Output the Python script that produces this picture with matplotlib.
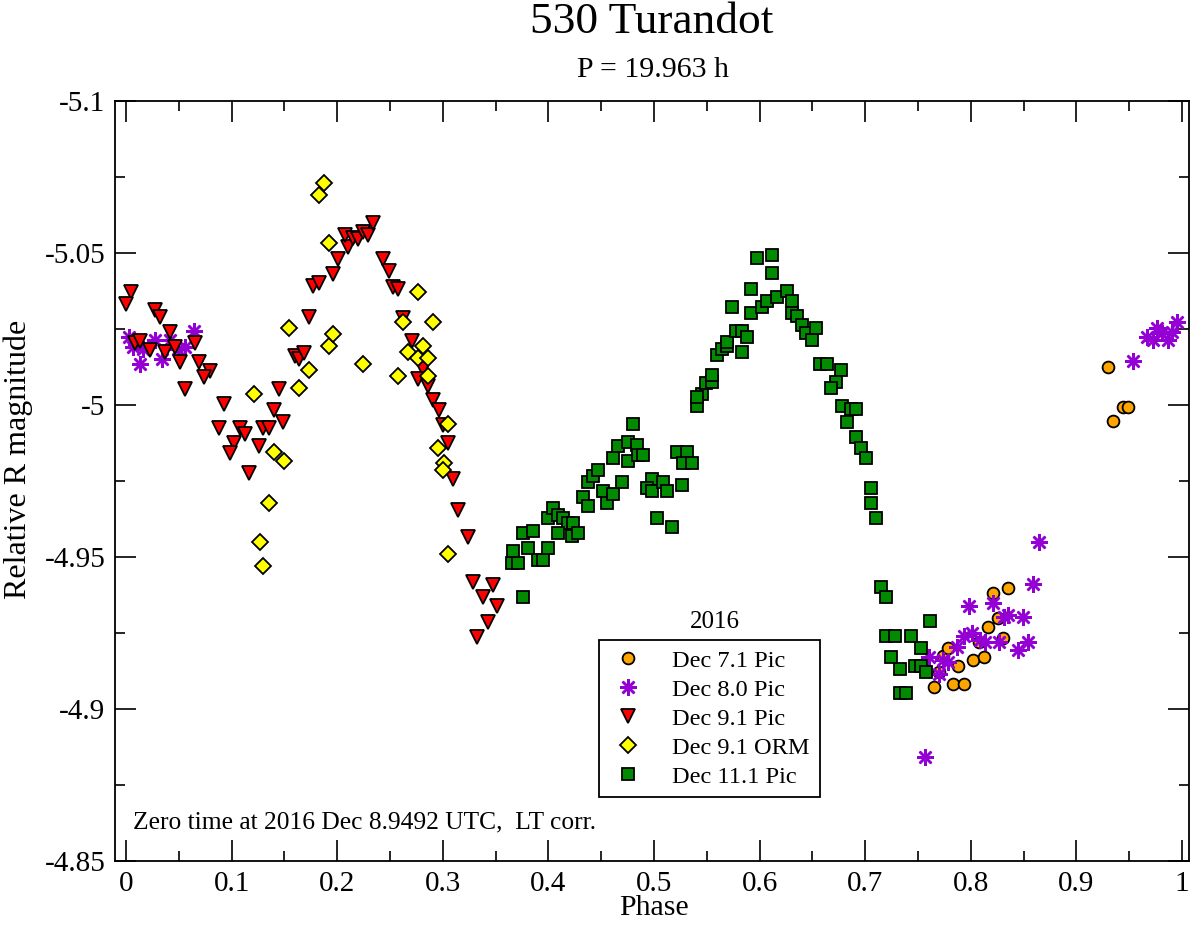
import matplotlib
matplotlib.use("Agg")
import matplotlib.pyplot as plt
from matplotlib.ticker import MultipleLocator, FuncFormatter

plt.rcParams["font.family"] = ["Liberation Serif", "DejaVu Serif"]
plt.rcParams["axes.unicode_minus"] = False

# Dec 7.1 Pic (orange circles)
dec07_phase = [0.7652, 0.7702, 0.7740, 0.7787, 0.7835, 0.7882, 0.7936, 0.8024, 0.8078, 0.8125,
               0.8160, 0.8213, 0.8261, 0.8308, 0.8355, 0.9296, 0.9349, 0.9438, 0.9491]
dec07_mag = [-4.9073, -4.9123, -4.9174, -4.9202, -4.9082, -4.9142, -4.9082, -4.9161, -4.9221, -4.9172,
             -4.9271, -4.9383, -4.9300, -4.9233, -4.9399, -5.0124, -4.9947, -4.9994, -4.9994]

# Dec 8.0 Pic (violet stars)
dec08_phase = [0.0031, 0.0069, 0.0164, 0.0133, 0.0275, 0.0338, 0.0417, 0.0495, 0.0559, 0.0647,
               0.7566, 0.7607, 0.7699, 0.7740, 0.7787, 0.7866, 0.7936, 0.8008, 0.7983, 0.8087,
               0.8134, 0.8213, 0.8270, 0.8317, 0.8349, 0.8450, 0.8491, 0.8545, 0.8592, 0.8646,
               0.9533, 0.9666, 0.9728, 0.9760, 0.9808, 0.9870, 0.9902, 0.9950]
dec08_mag = [-5.0225, -5.0192, -5.0183, -5.0135, -5.0214, -5.0151, -5.0214, -5.0183, -5.0192, -5.0243,
             -4.8842, -4.9172, -4.9115, -4.9161, -4.9156, -4.9203, -4.9240, -4.9249, -4.9339, -4.9227,
             -4.9221, -4.9350, -4.9221, -4.9302, -4.9309, -4.9194, -4.9302, -4.9221, -4.9411, -4.9548,
             -5.0145, -5.0225, -5.0214, -5.0252, -5.0236, -5.0214, -5.0241, -5.0274]

# Dec 9.1 Pic (red triangles)
dec09_phase = [0.0045, 0.0000, 0.0275, 0.0322, 0.0417, 0.0085, 0.0133, 0.0227, 0.0369, 0.0464,
               0.0653, 0.0511, 0.0694, 0.0795, 0.0741, 0.0559, 0.0931, 0.0884, 0.1080, 0.1127,
               0.1026, 0.0985, 0.1168, 0.1300, 0.1357, 0.1262, 0.1404, 0.1490, 0.1452, 0.1600,
               0.1641, 0.1686, 0.1733, 0.1774, 0.1828, 0.1963, 0.2010, 0.2105, 0.2074, 0.2152,
               0.2200, 0.2247, 0.2294, 0.2342, 0.2437, 0.2491, 0.2531, 0.2579, 0.2626, 0.2711,
               0.2810, 0.2762, 0.2863, 0.2904, 0.2964, 0.2999, 0.3046, 0.3099, 0.3147, 0.3242,
               0.3289, 0.3478, 0.3378, 0.3516, 0.3425, 0.3327]
dec09_mag = [-5.0371, -5.0332, -5.0312, -5.0290, -5.0241, -5.0203, -5.0211, -5.0181, -5.0173, -5.0192,
             -5.0203, -5.0142, -5.0142, -5.0113, -5.0093, -5.0053, -5.0002, -4.9925, -4.9925, -4.9904,
             -4.9874, -4.9843, -4.9775, -4.9925, -4.9925, -4.9865, -4.9984, -4.9943, -5.0053, -5.0162,
             -5.0151, -5.0172, -5.0290, -5.0391, -5.0400, -5.0430, -5.0480, -5.0519, -5.0559, -5.0548,
             -5.0545, -5.0570, -5.0559, -5.0600, -5.0480, -5.0441, -5.0389, -5.0381, -5.0285, -5.0212,
             -5.0117, -5.0086, -5.0062, -5.0016, -4.9984, -4.9934, -4.9874, -4.9756, -4.9655, -4.9567,
             -4.9417, -4.9408, -4.9369, -4.9339, -4.9287, -4.9238]

# Dec 9.1 ORM (yellow diamonds)
orm_phase = [0.1212, 0.1300, 0.1269, 0.1357, 0.1404, 0.1496, 0.1546, 0.1638, 0.1736, 0.1828,
             0.1875, 0.1922, 0.1922, 0.1963, 0.2247, 0.2579, 0.2620, 0.2673, 0.2768, 0.2768,
             0.2815, 0.2857, 0.2857, 0.2904, 0.2957, 0.3011, 0.3005, 0.3046, 0.3046]
orm_mag = [-5.0035, -4.9470, -4.9550, -4.9679, -4.9846, -4.9817, -5.0254, -5.0055, -5.0115, -5.0691,
           -5.0731, -5.0532, -5.0195, -5.0234, -5.0135, -5.0095, -5.0272, -5.0173, -5.0373, -5.0154,
           -5.0195, -5.0154, -5.0095, -5.0272, -4.9857, -4.9808, -4.9786, -4.9937, -4.9509]

# Dec 11.1 Pic (green squares)
dec11_phase = [0.3652, 0.3715, 0.3668, 0.3762, 0.3757, 0.3810, 0.3857, 0.3899, 0.3946, 0.3999,
               0.3999, 0.4041, 0.4094, 0.4141, 0.4188, 0.4236, 0.4094, 0.4221, 0.4283, 0.4330,
               0.4372, 0.4372, 0.4419, 0.4473, 0.4514, 0.4558, 0.4609, 0.4700, 0.4609, 0.4656,
               0.4751, 0.4751, 0.4836, 0.4851, 0.4893, 0.4798, 0.4978, 0.4931, 0.4978, 0.5082,
               0.5120, 0.5268, 0.5031, 0.5168, 0.5221, 0.5310, 0.5272, 0.5357, 0.5404, 0.5452,
               0.5404, 0.5492, 0.5552, 0.5552, 0.5594, 0.5641, 0.5694, 0.5688, 0.5777, 0.5830,
               0.5883, 0.5830, 0.5741, 0.5919, 0.5919, 0.5972, 0.6115, 0.6115, 0.6020, 0.6067,
               0.6162, 0.6256, 0.6304, 0.6304, 0.6351, 0.6399, 0.6439, 0.6493, 0.6534, 0.6572,
               0.6635, 0.6771, 0.6721, 0.6673, 0.6777, 0.6862, 0.6913, 0.6824, 0.6913, 0.6960,
               0.7005, 0.7052, 0.7052, 0.7102, 0.7147, 0.7194, 0.7194, 0.7282, 0.7244, 0.7330,
               0.7330, 0.7384, 0.7434, 0.7472, 0.7525, 0.7525, 0.7573, 0.7614]
dec11_mag = [-4.9479, -4.9479, -4.9520, -4.9369, -4.9578, -4.9529, -4.9587, -4.9490, -4.9490, -4.9529,
             -4.9629, -4.9660, -4.9638, -4.9629, -4.9611, -4.9611, -4.9578, -4.9569, -4.9578, -4.9698,
             -4.9668, -4.9748, -4.9767, -4.9786, -4.9717, -4.9677, -4.9707, -4.9748, -4.9827, -4.9866,
             -4.9877, -4.9817, -4.9868, -4.9836, -4.9836, -4.9937, -4.9757, -4.9728, -4.9717, -4.9748,
             -4.9717, -4.9737, -4.9629, -4.9600, -4.9846, -4.9846, -4.9808, -4.9808, -4.9997, -5.0036,
             -5.0027, -5.0073, -5.0077, -5.0099, -5.0164, -5.0184, -5.0194, -5.0208, -5.0244, -5.0244,
             -5.0225, -5.0173, -5.0323, -5.0382, -5.0304, -5.0483, -5.0493, -5.0433, -5.0323, -5.0343,
             -5.0354, -5.0375, -5.0343, -5.0304, -5.0294, -5.0263, -5.0236, -5.0214, -5.0254, -5.0135,
             -5.0135, -5.0115, -5.0075, -5.0055, -4.9997, -4.9986, -4.9986, -4.9945, -4.9896, -4.9858,
             -4.9827, -4.9728, -4.9679, -4.9629, -4.9400, -4.9369, -4.9241, -4.9241, -4.9172, -4.9132,
             -4.9054, -4.9054, -4.9241, -4.9143, -4.9143, -4.9202, -4.9121, -4.9290]

fig = plt.figure(figsize=(12, 9.25), dpi=100)
ax = fig.add_axes([115 / 1200, 1 - 861 / 925, 1074 / 1200, 760 / 925])

ew = 1.3
ax.plot(dec07_phase, dec07_mag, "o", ms=8.5, mfc="#FFA500", mec="black", mew=ew, label="Dec 7.1 Pic")
ax.plot(dec08_phase, dec08_mag, ls="none", marker=(8, 2, 0), ms=12, mec="#9400D3", mew=1.8,
        label="Dec 8.0 Pic")
ax.plot(dec09_phase, dec09_mag, "v", ms=10, mfc="#FF0000", mec="black", mew=ew, label="Dec 9.1 Pic")
ax.plot(orm_phase, orm_mag, "D", ms=7.8, mfc="#FFFF00", mec="black", mew=ew, label="Dec 9.1 ORM")
ax.plot(dec11_phase, dec11_mag, "s", ms=8, mfc="#008B00", mec="black", mew=ew, label="Dec 11.1 Pic")

ax.set_xlim(-0.0104, 1.0066)
ax.set_ylim(-4.85, -5.1)

ax.xaxis.set_major_locator(MultipleLocator(0.1))
ax.xaxis.set_minor_locator(MultipleLocator(0.05))
ax.yaxis.set_major_locator(MultipleLocator(0.05))
ax.yaxis.set_minor_locator(MultipleLocator(0.025))
fmt = FuncFormatter(lambda v, p: "%g" % round(v, 4))
ax.xaxis.set_major_formatter(fmt)
ax.yaxis.set_major_formatter(fmt)

ax.tick_params(which="both", direction="in", top=True, right=True, width=1.2, labelsize=21)
ax.tick_params(which="major", length=15, pad=7)
ax.tick_params(which="minor", length=7.5)
for s in ax.spines.values():
    s.set_linewidth(1.3)

fig.text(654 / 1200, 1 - 908 / 925, "Phase", ha="center", va="center", fontsize=21.5)
fig.text(18 / 1200, 1 - 459 / 925, "Relative R magnitude", ha="center", va="center",
         rotation=90, fontsize=23)

fig.text(652 / 1200, 1 - 22 / 925, "530 Turandot", ha="center", va="center", fontsize=32.7)
fig.text(653 / 1200, 1 - 70 / 925, "P = 19.963 h", ha="center", va="center", fontsize=21.5)

ax.text(0.0168, 0.051, "Zero time at 2016 Dec 8.9492 UTC,  LT corr.", transform=ax.transAxes,
        fontsize=18.4, ha="left", va="center")

leg = ax.legend(loc="upper left", bbox_to_anchor=(0.4507, 0.2908), borderaxespad=0, fontsize=17.6,
                frameon=True, fancybox=False, edgecolor="black", framealpha=1, borderpad=0.4,
                labelspacing=0.28, handletextpad=1.0, handlelength=1.6)
leg.get_frame().set_linewidth(1.3)
ax.text((715 - 115) / 1074, (861 - 621.7) / 760, "2016", transform=ax.transAxes,
        fontsize=18, ha="center", va="center")

fig.savefig("out.png", dpi=100)
